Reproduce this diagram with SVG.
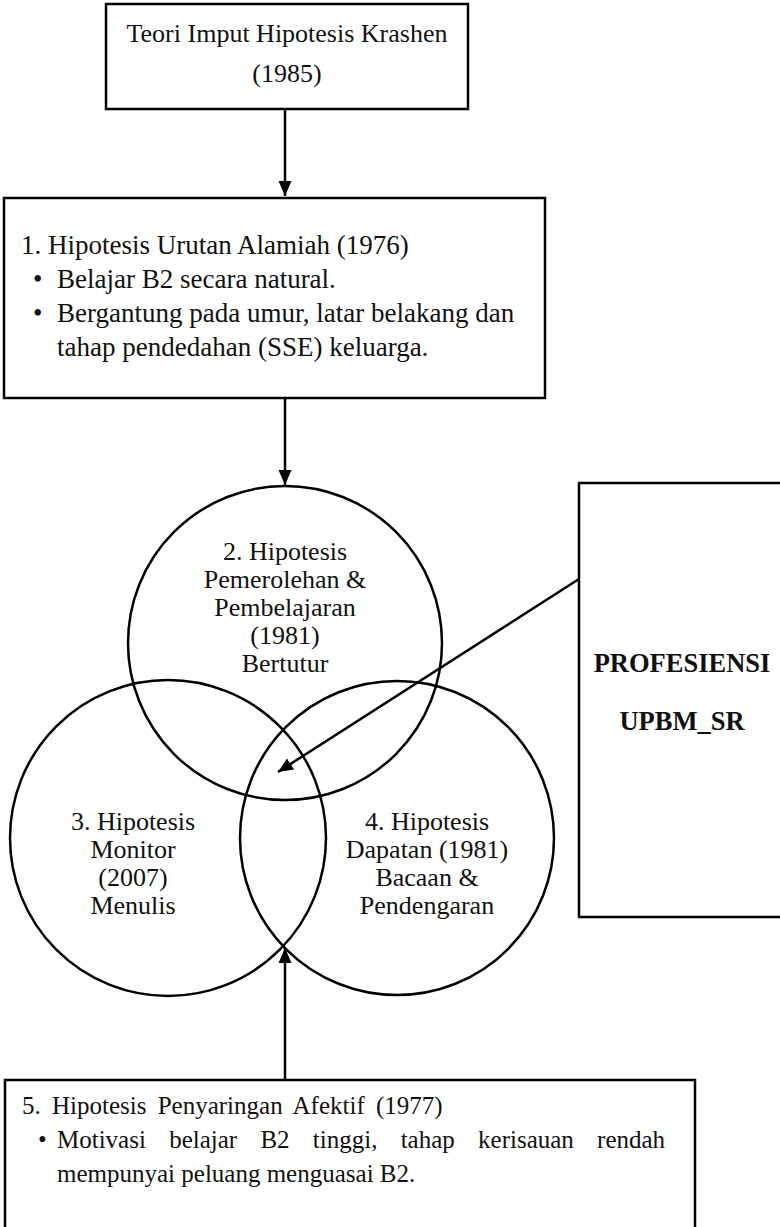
<svg xmlns="http://www.w3.org/2000/svg" width="780" height="1227" viewBox="0 0 780 1227">
<style>
.box{fill:#fff;stroke:#000;stroke-width:2.5}
.circ{fill:none;stroke:#000;stroke-width:2.5}
.t{font-family:"Liberation Serif","Times New Roman",serif;font-size:26px;fill:#111}
.t1{font-size:27px}
.t5{font-size:25px}
.c{text-anchor:middle}
.b{font-weight:bold;font-size:26.5px}
.con{stroke:#000;stroke-width:2.5;fill:none}
</style>
<defs>
<marker id="ah" markerUnits="userSpaceOnUse" markerWidth="16" markerHeight="16" viewBox="0 0 16 16" refX="15" refY="8" orient="auto">
<path d="M0,1.5 L15,8 L0,14.5 Z" fill="#000"/>
</marker>
</defs>
<rect width="780" height="1227" fill="#fff"/>
<g id="connectors">
<line class="con" x1="285" y1="109" x2="285" y2="196" marker-end="url(#ah)"/>
<line class="con" x1="285" y1="398" x2="285" y2="485" marker-end="url(#ah)"/>
<line class="con" x1="285" y1="1080" x2="285" y2="948" marker-end="url(#ah)"/>
<line class="con" x1="579" y1="579" x2="278" y2="772" marker-end="url(#ah)"/>
</g>
<g id="n0">
<rect class="box" x="106" y="4" width="362" height="105"/>
<text class="t c" x="287" y="42">Teori Imput Hipotesis Krashen</text>
<text class="t c" x="287" y="82">(1985)</text>
</g>
<g id="n1">
<rect class="box" x="4" y="198" width="541" height="200"/>
<text class="t t1" x="21" y="254">1. Hipotesis Urutan Alamiah (1976)</text>
<text class="t t1" x="33" y="288">•</text>
<text class="t t1" x="57" y="288">Belajar B2 secara natural.</text>
<text class="t t1" x="33" y="322">•</text>
<text class="t t1" x="57" y="322">Bergantung pada umur, latar belakang dan</text>
<text class="t t1" x="57" y="356">tahap pendedahan (SSE) keluarga.</text>
</g>
<g id="n2">
<circle class="circ" cx="285" cy="643" r="157"/>
<text class="t c" x="285" y="560">2. Hipotesis</text>
<text class="t c" x="285" y="588">Pemerolehan &amp;</text>
<text class="t c" x="285" y="616">Pembelajaran</text>
<text class="t c" x="285" y="644">(1981)</text>
<text class="t c" x="285" y="672">Bertutur</text>
</g>
<g id="n3">
<circle class="circ" cx="168" cy="838" r="158"/>
<text class="t c" x="133" y="830">3. Hipotesis</text>
<text class="t c" x="133" y="858">Monitor</text>
<text class="t c" x="133" y="886">(2007)</text>
<text class="t c" x="133" y="914">Menulis</text>
</g>
<g id="n4">
<circle class="circ" cx="397" cy="838" r="157"/>
<text class="t c" x="427" y="830">4. Hipotesis</text>
<text class="t c" x="427" y="858">Dapatan (1981)</text>
<text class="t c" x="427" y="886">Bacaan &amp;</text>
<text class="t c" x="427" y="914">Pendengaran</text>
</g>
<g id="n5">
<rect class="box" x="579" y="483" width="260" height="434"/>
<text class="t c b" x="682" y="672">PROFESIENSI</text>
<text class="t c b" x="682" y="730">UPBM_SR</text>
</g>
<g id="n6">
<rect class="box" x="5" y="1080" width="690" height="165"/>
<text class="t t5" x="22" y="1114" word-spacing="5">5. Hipotesis Penyaringan Afektif (1977)</text>
<text class="t t5" x="38" y="1148">•</text>
<text class="t t5" x="57" y="1148" word-spacing="17">Motivasi belajar B2 tinggi, tahap kerisauan rendah</text>
<text class="t t5" x="57" y="1182">mempunyai peluang menguasai B2.</text>
</g>
</svg>
